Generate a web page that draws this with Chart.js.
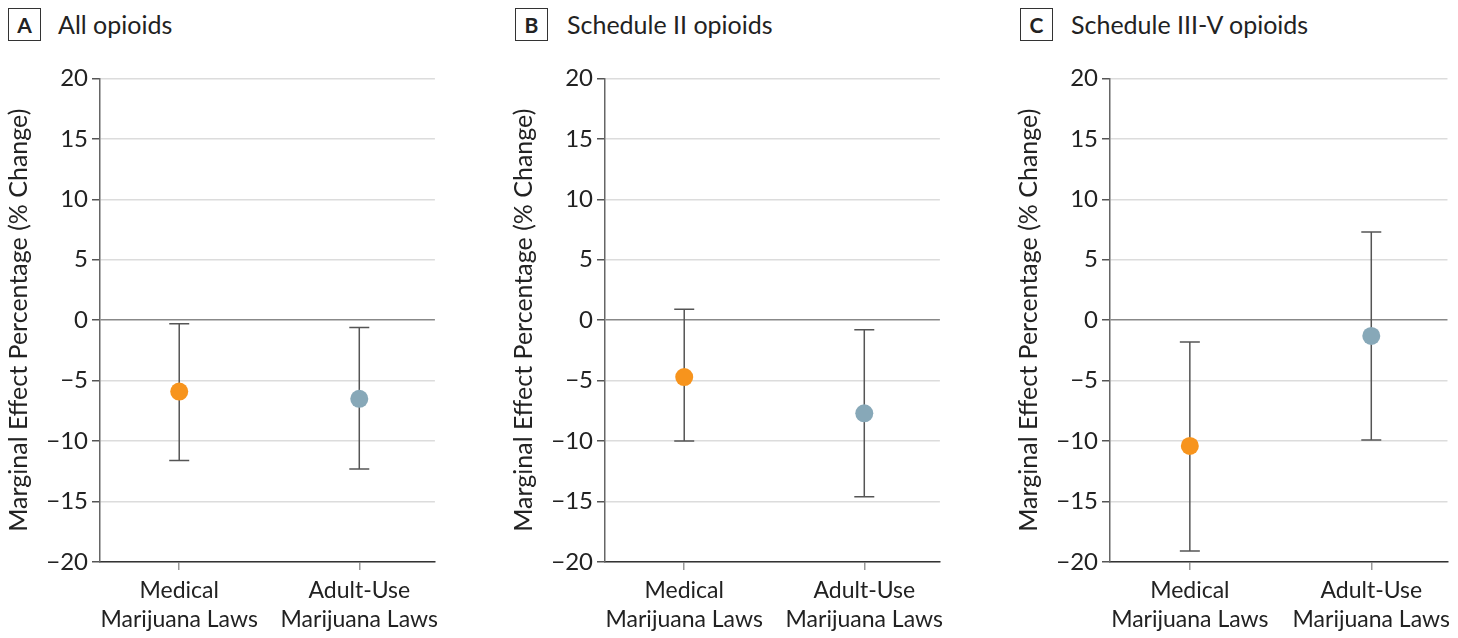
<!DOCTYPE html>
<html>
<head>
<meta charset="utf-8">
<script src="https://cdn.jsdelivr.net/npm/chart.js@4"></script>
<style>
    body { margin: 0; background: #fff; width: 1458px; height: 638px; position: relative; overflow: hidden; font-family: Lato, "Liberation Sans", sans-serif; color: #222; }
    .panel-box { position: absolute; top: 8px; width: 31px; height: 31px; border: 1px solid #333; font-weight: bold; font-size: 21px; text-align: center; line-height: 31px; }
    .panel-title { position: absolute; top: 8px; font-size: 25px; line-height: 33px; }
    canvas { position: absolute; top: 60px; }
</style>
</head>
<body>
<div id="headers"></div>
<canvas id="chartA" width="446" height="578" style="left:0px"></canvas>
<canvas id="chartB" width="446" height="578" style="left:505px"></canvas>
<canvas id="chartC" width="448" height="578" style="left:1010px"></canvas>
<script>
// Data
const categories = [['Medical', 'Marijuana Laws'], ['Adult-Use', 'Marijuana Laws']];
const panelLetters = ['A', 'B', 'C'];
const panelTitles = ['All opioids', 'Schedule II opioids', 'Schedule III-V opioids'];
const yTicks = [-20, -15, -10, -5, 0, 5, 10, 15, 20];
const pointEstimates = [[-5.9, -6.5], [-4.7, -7.7], [-10.4, -1.3]];
const lowerCI = [[-11.6, -12.3], [-10.0, -14.6], [-19.1, -9.9]];
const upperCI = [[-0.3, -0.6], [0.9, -0.8], [-1.8, 7.3]];
const pointColors = ['#F7941D', '#87A8B8'];

const canvasIds = ['chartA', 'chartB', 'chartC'];
const boxLeft = [8, 515, 1020];
const titleLeft = [58, 567, 1071];

// Headers
const headers = document.getElementById('headers');
panelLetters.forEach((letter, i) => {
    headers.innerHTML += `
        <div class="panel-box" style="left:${boxLeft[i]}px">${letter}</div>
        <div class="panel-title" style="left:${titleLeft[i]}px">${panelTitles[i]}</div>
    `;
});

// Error bars drawn behind the points
const errorBarPlugin = {
    id: 'errorBars',
    beforeDatasetsDraw(chart) {
        const ctx = chart.ctx;
        const xScale = chart.scales.x;
        const yScale = chart.scales.y;
        const p = chart.options.plugins.errorBars;
        ctx.save();
        ctx.strokeStyle = '#555';
        ctx.lineWidth = 1.5;
        p.lower.forEach((lo, j) => {
            const x = xScale.getPixelForValue(j);
            const yLo = yScale.getPixelForValue(lo);
            const yHi = yScale.getPixelForValue(p.upper[j]);
            ctx.beginPath();
            ctx.moveTo(x, yLo);
            ctx.lineTo(x, yHi);
            ctx.moveTo(x - 10, yLo);
            ctx.lineTo(x + 10, yLo);
            ctx.moveTo(x - 10, yHi);
            ctx.lineTo(x + 10, yHi);
            ctx.stroke();
        });
        ctx.restore();
    }
};

function formatTick(v) {
    return v < 0 ? '\u2212' + Math.abs(v) : String(v);
}

function makeChart(i) {
    const ctx = document.getElementById(canvasIds[i]).getContext('2d');
    return new Chart(ctx, {
        type: 'scatter',
        data: {
            datasets: [{
                data: pointEstimates[i].map((y, j) => ({ x: j, y: y })),
                pointBackgroundColor: pointColors,
                pointBorderWidth: 0,
                pointRadius: 9,
                pointHoverRadius: 9
            }]
        },
        options: {
            responsive: false,
            animation: false,
            layout: { padding: { top: 17, right: 8, left: 0, bottom: 0 } },
            plugins: {
                legend: { display: false },
                tooltip: { enabled: false },
                errorBars: { lower: lowerCI[i], upper: upperCI[i] }
            },
            scales: {
                x: {
                    type: 'linear',
                    min: -0.44,
                    max: 1.42,
                    afterBuildTicks: axis => { axis.ticks = [0, 1].map(v => ({ value: v })); },
                    afterFit: scale => { scale.height = 76; },
                    ticks: {
                        callback: v => categories[v],
                        font: { family: 'Lato', size: 23, lineHeight: 1.25 },
                        color: '#222',
                        padding: 6,
                        maxRotation: 0
                    },
                    grid: { drawOnChartArea: false, tickLength: 8, tickColor: '#999', lineWidth: 1.5 },
                    border: { color: '#333', width: 1.5 }
                },
                y: {
                    min: -20,
                    max: 20,
                    afterBuildTicks: axis => { axis.ticks = yTicks.map(v => ({ value: v })); },
                    afterFit: scale => { scale.width = 100; },
                    ticks: {
                        callback: formatTick,
                        font: { family: 'Lato', size: 24 },
                        color: '#222',
                        padding: 4
                    },
                    grid: {
                        color: c => c.tick && c.tick.value === 0 ? '#888' : '#dcdcdc',
                        lineWidth: 1.5,
                        tickLength: 8,
                        tickColor: '#555'
                    },
                    border: { color: '#666', width: 1.5 },
                    title: {
                        display: true,
                        text: 'Marginal Effect Percentage (% Change)',
                        font: { family: 'Lato', size: 25 },
                        color: '#222',
                        padding: { top: 4, bottom: 0 }
                    }
                }
            }
        },
        plugins: [errorBarPlugin]
    });
}

panelLetters.forEach((_, i) => makeChart(i));
</script>
</body>
</html>
